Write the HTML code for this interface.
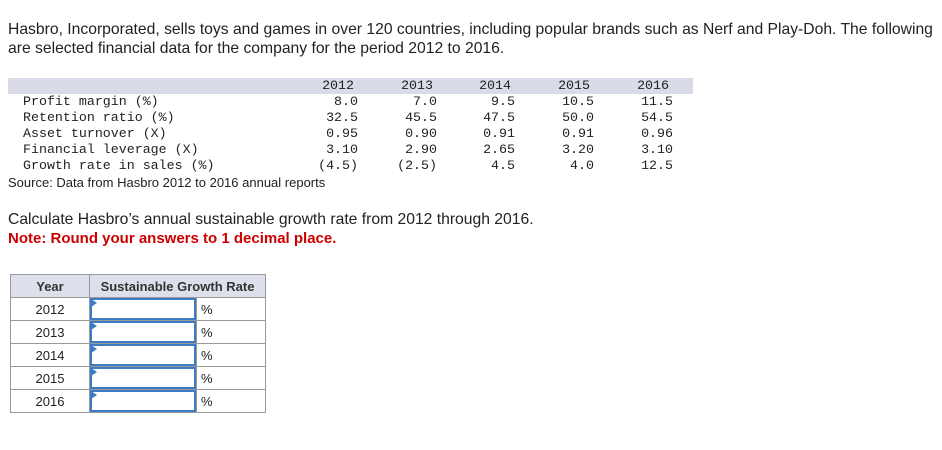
<!DOCTYPE html>
<html><head><meta charset="utf-8"><style>
body{margin:0;width:942px;height:450px;background:#fff;position:relative;font-family:"Liberation Sans",sans-serif;color:#222;overflow:hidden}
.a{position:absolute;white-space:nowrap}
.p{font-size:15.7px;line-height:19px}
.m{font-family:"Liberation Mono",monospace;font-size:13.3px;line-height:16px}
.r{text-align:right}
table{position:absolute;left:10px;top:274px;border-collapse:collapse;font-size:13px}
td,th{border:1px solid #999;height:22px;padding:0;text-align:center}
th{background:#dde0ea;font-weight:bold;color:#333}
.in{position:relative;width:106px;padding:0}
.in div{position:absolute;left:0;top:0;right:0;bottom:0;border:2px solid #3d7bc6}
.in span{position:absolute;left:1px;top:1px;width:0;height:0;border-top:4px solid transparent;border-bottom:4px solid transparent;border-left:6px solid #3d7bc6}
.pc{text-align:left;padding-left:4px;width:64px}
</style></head><body>
<div class="a p" style="left:8px;top:20px;white-space:normal;width:930px">Hasbro, Incorporated, sells toys and games in over 120 countries, including popular brands such as Nerf and Play-Doh. The following are selected financial data for the company for the period 2012 to 2016.</div>
<div class="a" style="left:8px;top:78px;width:685px;height:16px;background:#d9dce8"></div>
<div id="dt"></div>
<div class="a" style="left:8px;top:175px;font-size:13px">Source: Data from Hasbro 2012 to 2016 annual reports</div>
<div class="a p" style="left:8px;top:210px">Calculate Hasbro’s annual sustainable growth rate from 2012 through 2016.</div>
<div class="a p" style="left:8px;top:229px;color:#c00;font-weight:bold;font-size:15px">Note: Round your answers to 1 decimal place.</div>
<table>
<tr><th style="width:78px">Year</th><th colspan="2">Sustainable Growth Rate</th></tr>
<tbody id="ab"></tbody>
</table>
<script>
const years=["2012","2013","2014","2015","2016"];
const labels=["Profit margin (%)","Retention ratio (%)","Asset turnover (X)","Financial leverage (X)","Growth rate in sales (%)"];
const rows=[["8.0","7.0","9.5","10.5","11.5"],["32.5","45.5","47.5","50.0","54.5"],["0.95","0.90","0.91","0.91","0.96"],["3.10","2.90","2.65","3.20","3.10"],["(4.5)","(2.5)","4.5","4.0","12.5"]];
const colR=[358,437,515,594,673];
const dt=document.getElementById('dt');
function add(txt,x,y,right,name){const d=document.createElement('div');d.className='a m'+(right?' r':'');d.textContent=txt;


if(right){d.style.left=(x-80)+'px';d.style.width='80px';}else d.style.left=x+'px';d.style.top=y+'px';dt.appendChild(d);}
years.forEach((y,i)=>add(y,colR[i]-4,78,true,'year-header'));
labels.forEach((l,r)=>{add(l,23,94+r*16,false,'row-label');rows[r].forEach((v,i)=>add(v,colR[i],94+r*16,true,'data-cell'));});
const ab=document.getElementById('ab');
years.forEach(y=>{const tr=document.createElement('tr');


tr.innerHTML='<td>'+y+'</td><td class="in"><div></div><span></span></td><td class="pc">%</td>';ab.appendChild(tr);});
</script>
</body></html>
